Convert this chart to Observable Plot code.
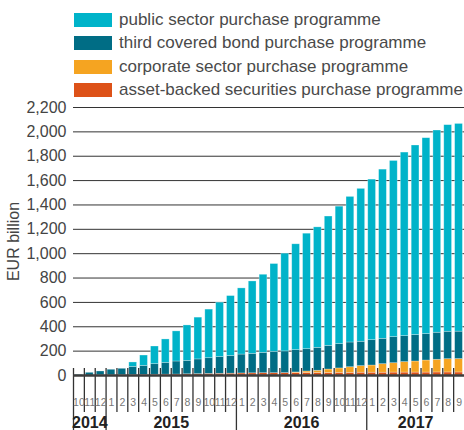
<!DOCTYPE html>
<html>
<head>
<meta charset="utf-8">
<script src="https://cdn.jsdelivr.net/npm/d3@7"></script>
<script src="https://cdn.jsdelivr.net/npm/@observablehq/plot@0.6"></script>
<style>
  html, body { margin: 0; padding: 0; background: #fff; }
  body { width: 464px; height: 430px; overflow: hidden; font-family: "Liberation Sans", Arial, sans-serif; }
  #legend { height: 100px; box-sizing: border-box; padding-top: 8.3px; padding-left: 74px; white-space: nowrap; }
  .row { height: 23.33px; display: flex; align-items: center; }
  .sw { width: 38px; height: 14px; flex: none; margin-right: 7px; }
  .lab { font-size: 17px; color: #4a4a4a; }
  #chart svg { display: block; }
</style>
</head>
<body>
<div id="legend"></div>
<div id="chart"></div>
<script>
// Month tick labels (Oct 2014 - Sep 2017)
const monthLabels = ["10","11","12","1","2","3","4","5","6","7","8","9","10","11","12",
  "1","2","3","4","5","6","7","8","9","10","11","12","1","2","3","4","5","6","7","8","9"];
const monthYears = [2014,2014,2014,2015,2015,2015,2015,2015,2015,2015,2015,2015,2015,2015,2015,
  2016,2016,2016,2016,2016,2016,2016,2016,2016,2016,2016,2016,2017,2017,2017,2017,2017,2017,2017,2017,2017];
const yearLabels = ["2014","2015","2016","2017"];

// Series values, EUR billion (segment heights, stacked bottom to top)
const abspp = [0,0,2,2,3,4,5,6,7,8,10,11,13,14,15,17,18,19,19,20,20,21,21,21,22,22,23,23,23,24,24,24,24,25,25,25];
const cspp  = [0,0,0,0,0,0,0,0,0,0,0,0,0,0,0,0,0,0,0,0,5,12,18,28,36,46,54,59,70,77,86,91,99,104,109,110];
const cbpp3 = [5,22,31,45,52,67,74,87,97,107,110,121,129,138,145,155,160,167,175,178,183,183,188,194,200,203,200,208,208,214,213,217,217,222,225,225];
const pspp  = [0,0,0,0,0,36,85,145,192,247,291,343,399,446,492,543,594,641,721,802,869,948,989,1062,1128,1195,1255,1318,1389,1446,1507,1556,1608,1660,1696,1705];

const seriesNames = ["asset-backed securities purchase programme","corporate sector purchase programme",
  "third covered bond purchase programme","public sector purchase programme"];
const seriesColors = ["#dd5218","#f5a421","#006d85","#00b3c9"];
const seriesValues = [abspp, cspp, cbpp3, pspp];
const yTicks = [0,200,400,600,800,1000,1200,1400,1600,1800,2000,2200];

// legend (top to bottom: reverse stacking order)
const legend = document.getElementById("legend");
for (let s = seriesNames.length - 1; s >= 0; s--) {
  const row = document.createElement("div");
  row.className = "row";
  row.innerHTML = `<span class="sw" style="background:${seriesColors[s]}"></span><span class="lab">${seriesNames[s]}</span>`;
  legend.appendChild(row);
}

// stacked table
const rows = [];
monthLabels.forEach((m, i) => {
  let acc = 0;
  seriesValues.forEach((vals, s) => {
    const v = vals[i];
    if (v > 0) rows.push({i, series: seriesNames[s], y1: acc, y2: acc + v});
    acc += v;
  });
});
const months = monthLabels.map((m, i) => ({i, label: m, year: monthYears[i]}));
const years = yearLabels.map(y => {
  const idx = months.filter(d => String(d.year) === y).map(d => d.i);
  return {year: y, start: d3.min(idx), end: d3.max(idx) + 1};
});
const yearStarts = years.map(d => d.start);

const W = 464, H = 330, mL = 73, mR = 0, mT = 7, mB = 55;

const chart = Plot.plot({
  width: W, height: H,
  marginLeft: mL, marginRight: mR, marginTop: mT, marginBottom: mB,
  style: {fontFamily: "'Liberation Sans', Arial, sans-serif", fontSize: "16px", color: "#444", background: "#fff"},
  x: {domain: [0, monthLabels.length], axis: null},
  y: {domain: [0, 2200], ticks: yTicks, tickFormat: d3.format(","), tickSize: 0, tickPadding: 7,
      label: "EUR billion", labelAnchor: "center", labelOffset: 66, labelArrow: "none"},
  color: {domain: seriesNames, range: seriesColors},
  marks: [
    Plot.ruleY(yTicks.filter(v => v > 0), {stroke: "#333", strokeWidth: 1}),
    Plot.rectY(rows, {x1: "i", x2: d => d.i + 1, y1: "y1", y2: "y2", fill: "series",
      insetLeft: 1.5, insetRight: 1.6, stroke: "#fff", strokeOpacity: 0.4, strokeWidth: 0.7}),
    Plot.ruleX(months.filter(d => !yearStarts.includes(d.i)), {x: "i", y1: 0, y2: 0, insetTop: -7, insetBottom: -37, stroke: "#333", strokeWidth: 1.3}),
    Plot.ruleX(yearStarts, {x: d => d, y1: 0, y2: 0, insetTop: -7, insetBottom: -56, stroke: "#333", strokeWidth: 1.3}),
    Plot.ruleY([0], {stroke: "#3c3c3c", strokeWidth: 2.6}),
    Plot.text(months, {x: d => d.i + 0.5, y: 0, text: "label", dy: 27, fontSize: 10.5, fill: "#777"}),
    Plot.text(years, {x: d => (d.start + d.end) / 2, y: 0, text: "year", dy: 47, fontSize: 16, fontWeight: "bold", fill: "#222"})
  ]
});
document.getElementById("chart").appendChild(chart);
</script>
</body>
</html>
